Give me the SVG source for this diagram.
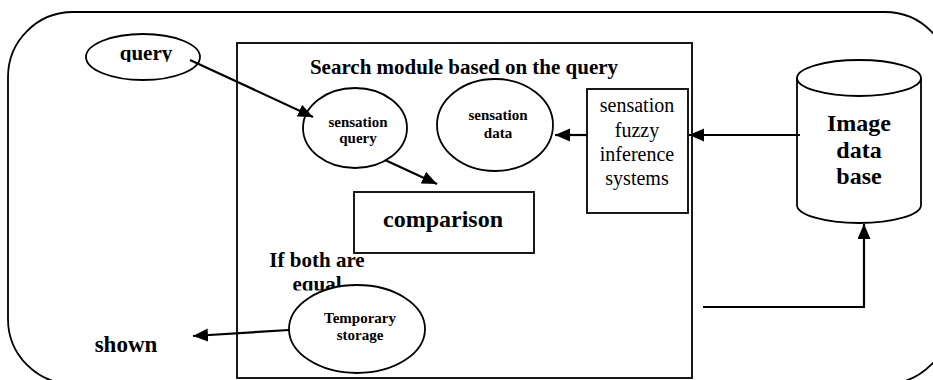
<svg xmlns="http://www.w3.org/2000/svg" width="933" height="380" viewBox="0 0 933 380">
<style>
.shape{fill:#fff;stroke:#000;stroke-width:1.8}
.frame{fill:none;stroke:#000;stroke-width:1.8}
.conn{fill:none;stroke:#000;stroke-width:2.2}
.b{font-family:"Liberation Serif","Times New Roman",serif;font-weight:bold;fill:#000;text-anchor:middle}
.r{font-family:"Liberation Serif","Times New Roman",serif;fill:#000;text-anchor:middle}
</style>
<defs>
<marker id="ah" markerUnits="userSpaceOnUse" markerWidth="16" markerHeight="14" refX="15" refY="6.5" orient="auto">
<path d="M0,0 L15,6.5 L0,13 z" fill="#000"/>
</marker>
<clipPath id="clipQuery"><rect x="100" y="30" width="90" height="32"/></clipPath>
<clipPath id="clipEqual"><rect x="280" y="270" width="80" height="20.5"/></clipPath>
</defs>
<rect width="933" height="380" fill="#fff"/>
<rect class="frame" x="8" y="12" width="942" height="372" rx="65" ry="65"/>
<g id="search-module">
<rect class="frame" x="237" y="43" width="455" height="335"/>
<text class="b" x="464" y="74" font-size="21">Search module based on the query</text>
</g>
<g id="query">
<ellipse class="shape" cx="143" cy="57" rx="57" ry="23"/>
<text class="b" x="146" y="59.5" font-size="21" clip-path="url(#clipQuery)">query</text>
</g>
<g id="sensation-query">
<ellipse class="shape" cx="355" cy="128" rx="52" ry="40"/>
<text class="b" x="358" y="127" font-size="15">sensation</text>
<text class="b" x="358" y="143" font-size="15">query</text>
</g>
<g id="sensation-data">
<ellipse class="shape" cx="495" cy="125" rx="58" ry="46"/>
<text class="b" x="498" y="120" font-size="15">sensation</text>
<text class="b" x="498" y="138" font-size="15">data</text>
</g>
<g id="fuzzy">
<rect class="shape" x="587" y="89" width="101" height="124"/>
<text class="r" x="637" y="112" font-size="20">sensation</text>
<text class="r" x="637" y="137" font-size="20">fuzzy</text>
<text class="r" x="637" y="161" font-size="20">inference</text>
<text class="r" x="637" y="185" font-size="20">systems</text>
</g>
<g id="image-database">
<path class="shape" d="M797,78 L797,205 A62,18 0 0 0 921,205 L921,78"/>
<ellipse class="shape" cx="859" cy="78" rx="62" ry="18"/>
<text class="b" x="859" y="131" font-size="24">Image</text>
<text class="b" x="859" y="158" font-size="24">data</text>
<text class="b" x="859" y="184" font-size="24">base</text>
</g>
<g id="comparison">
<rect class="shape" x="354" y="192" width="180" height="61"/>
<text class="b" x="443" y="227" font-size="24">comparison</text>
</g>
<g id="condition">
<text class="b" x="317" y="267" font-size="21">If both are</text>
<text class="b" x="317" y="291" font-size="21" clip-path="url(#clipEqual)">equal</text>
</g>
<g id="temporary-storage">
<ellipse class="shape" cx="357" cy="329" rx="68" ry="44"/>
<text class="b" x="360" y="323" font-size="15">Temporary</text>
<text class="b" x="360" y="340" font-size="15">storage</text>
</g>
<g id="shown">
<text class="b" x="126" y="352" font-size="23">shown</text>
</g>
<g id="connectors">
<line class="conn" x1="190" y1="60" x2="313" y2="117" marker-end="url(#ah)"/>
<line class="conn" x1="385" y1="160" x2="437" y2="184" marker-end="url(#ah)"/>
<line class="conn" x1="800" y1="135" x2="689" y2="135" marker-end="url(#ah)"/>
<line class="conn" x1="587" y1="135" x2="555" y2="135" marker-end="url(#ah)"/>
<line class="conn" x1="289" y1="330" x2="193" y2="336" marker-end="url(#ah)"/>
<polyline class="conn" points="703,307 864,307 864,224" marker-end="url(#ah)"/>
</g>
</svg>
